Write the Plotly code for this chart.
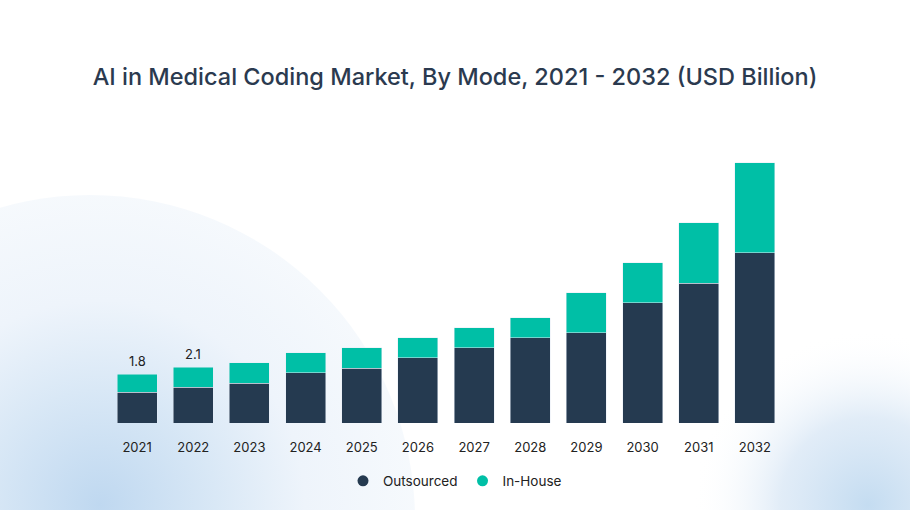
import base64
import plotly.graph_objects as go

years = ["2021", "2022", "2023", "2024", "2025", "2026",
         "2027", "2028", "2029", "2030", "2031", "2032"]
outsourced = [1.15, 1.33, 1.49, 1.87, 2.05, 2.43, 2.80, 3.17, 3.36, 4.48, 5.22, 6.34]
in_house = [0.67, 0.75, 0.75, 0.75, 0.75, 0.75, 0.75, 0.75, 1.49, 1.49, 2.24, 3.36]
bar_labels = ["1.8", "2.1"]  # only the first two years carry a value label

NAVY = "#253a50"
TEAL = "#00bfa6"
W, H = 910, 510
ML, MR, MT, MB = 109, 127, 128, 87

# soft blue blobs in the background, drawn as an svg behind the plot
bg_svg = f"""<svg xmlns="http://www.w3.org/2000/svg" width="{W}" height="{H}" viewBox="0 0 {W} {H}">
<defs>
<radialGradient id="a" cx="100" cy="505" r="330" gradientUnits="userSpaceOnUse">
<stop offset="0" stop-color="#bfd8f0"/><stop offset="0.35" stop-color="#d9e8f6"/><stop offset="0.62" stop-color="#eef4fb"/><stop offset="1" stop-color="#f7fafd"/>
</radialGradient>
<radialGradient id="b" cx="868" cy="505" r="175" gradientUnits="userSpaceOnUse">
<stop offset="0" stop-color="#c4dcf1"/><stop offset="0.5" stop-color="#dce9f6" stop-opacity="0.85"/><stop offset="1" stop-color="#ffffff" stop-opacity="0"/>
</radialGradient>
</defs>
<circle cx="90" cy="520" r="325" fill="url(#a)"/>
<rect width="{W}" height="{H}" fill="url(#b)"/>
</svg>"""
bg_uri = "data:image/svg+xml;base64," + base64.b64encode(bg_svg.encode()).decode()

pw = W - ML - MR
ph = H - MT - MB

fig = go.Figure()
fig.add_bar(x=years, y=outsourced, name="Outsourced", marker_color=NAVY,
            showlegend=False, hoverinfo="x+y")
fig.add_bar(x=years, y=in_house, name="In-House", marker_color=TEAL,
            showlegend=False, hoverinfo="x+y")

# round legend markers
for name, col in [("Outsourced", NAVY), ("In-House", TEAL)]:
    fig.add_scatter(x=[years[0]], y=[None], mode="markers", name=name,
                    marker=dict(color=col, size=11, symbol="circle"))

# value labels on top of the first bars (x given as category index)
totals = [o + i for o, i in zip(outsourced, in_house)]
for idx, (tot, lab) in enumerate(zip(totals, bar_labels)):
    fig.add_annotation(x=idx, y=tot, text=lab, showarrow=False, yanchor="bottom",
                       yshift=3, font=dict(family="Inter", size=13, color="#222222"))

fig.update_layout(
    width=W, height=H,
    margin=dict(l=ML, r=MR, t=MT, b=MB, autoexpand=False),
    barmode="stack", bargap=0.288,
    paper_bgcolor="white", plot_bgcolor="rgba(0,0,0,0)",
    font=dict(family="Inter", color="#222222"),
    title=dict(text="AI in Medical Coding Market, By Mode, 2021 - 2032 (USD Billion)",
               x=0.5, xref="container", xanchor="center",
               y=1 - 77 / H, yref="container", yanchor="middle",
               font=dict(family="Inter", size=23.5, color="#2b3a4f", weight=500)),
    legend=dict(orientation="h", traceorder="normal",
                x=0.5, xref="container", xanchor="center",
                y=1 - 481 / H, yref="container", yanchor="middle",
                font=dict(family="Inter", size=13.5, color="#222222"),
                bgcolor="rgba(0,0,0,0)"),
    images=[dict(source=bg_uri, xref="paper", yref="paper",
                 x=-ML / pw, y=1 + MT / ph, sizex=W / pw, sizey=H / ph,
                 xanchor="left", yanchor="top", sizing="stretch", layer="below")],
)
fig.update_xaxes(type="category", range=[-0.5, len(years) - 0.5],
                 showline=False, showgrid=False, zeroline=False,
                 ticks="outside", ticklen=12, tickcolor="rgba(0,0,0,0)",
                 tickfont=dict(family="Inter", size=13, color="#222222"))
fig.update_yaxes(visible=False, range=[0, 11])

# drop the default page margin so the figure fills the window
fig.write_html("out.html", config={"displayModeBar": False},
               post_script="document.body.style.margin='0';")
